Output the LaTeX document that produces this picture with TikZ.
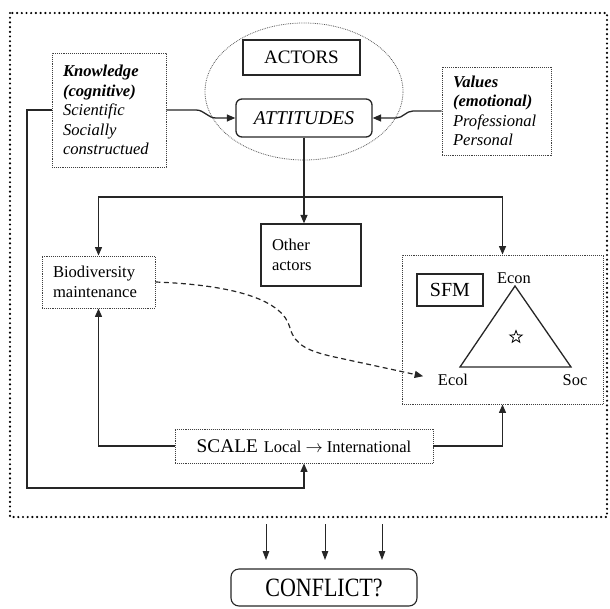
\documentclass[tikz,border=0pt]{standalone}
\usepackage{fontspec}
\usepackage{graphicx}
\setmainfont{Liberation Serif}
\usetikzlibrary{arrows.meta,shapes.geometric}
\begin{document}
\begin{tikzpicture}[x=1pt,y=-1pt,
  ln/.style={line width=1.3pt, draw=black!85},
  arr/.style={ln, -{Triangle[length=8.5pt,width=7pt]}},
  thinarr/.style={line width=1pt, draw=black!85, -{Triangle[length=9pt,width=6.5pt]}},
  dasharr/.style={line width=1.2pt, draw=black!85, dash pattern=on 5pt off 3.5pt, -{Triangle[length=8.5pt,width=7pt]}},
  solidbox/.style={draw=black!85, line width=1.3pt, inner sep=0pt},
  dotbox/.style={draw=black!75, line width=0.9pt, densely dotted, inner sep=0pt},
  outer/.style={line width=2.4pt, dash pattern=on 0pt off 4.7pt, line cap=round, draw=black},
  fA/.style={font=\fontsize{16.6}{19.4}\selectfont},
  lab/.style={inner sep=0pt, anchor=base, font=\fontsize{16.4}{19}\selectfont}
]
\useasboundingbox (0,0) rectangle (610,608);

% outer dotted frame
\draw[outer] (10,13) rectangle (607,517);

% actors ellipse
\node[ellipse, draw=black!65, densely dotted, line width=0.8pt, minimum width=198pt, minimum height=137pt, inner sep=0pt] (ell) at (304,91.5) {};
\node[solidbox, minimum width=117pt, minimum height=35pt, font=\fontsize{19}{22}\selectfont] (actors) at (301.5,57.5) {ACTORS};
\node[solidbox, rounded corners=6pt, minimum width=136pt, minimum height=38pt, font=\fontsize{19.5}{22}\selectfont\itshape] (att) at (304,118) {ATTITUDES};

% knowledge and values
\node[dotbox, minimum width=114pt, minimum height=114pt, text width=92pt, align=left, fA] (know) at (109,110)
  {\textbf{\textit{Knowledge}}\\\textbf{\textit{(cognitive)}}\\\textit{Scientific}\\\textit{Socially}\\\textit{constructued}};
\node[dotbox, minimum width=109pt, minimum height=88pt, text width=87pt, align=left, fA] (val) at (496.5,111)
  {\textbf{\textit{Values}}\\\textbf{\textit{(emotional)}}\\\textit{Professional}\\\textit{Personal}};

% middle row
\node[dotbox, minimum width=113pt, minimum height=52pt, text width=91pt, align=left, fA] (bio) at (98.5,282)
  {Biodiversity\\maintenance};
\node[solidbox, minimum width=100pt, minimum height=62pt, text width=78pt, align=left, fA] (other) at (311,255)
  {Other\\actors};

% SFM box
\node[dotbox, minimum width=201pt, minimum height=149pt] (sfm) at (502.5,329.5) {};
\node[solidbox, minimum width=66pt, minimum height=32pt, font=\fontsize{20}{22}\selectfont] (sfmlab) at (450,290) {SFM};
\coordinate (te) at (515,286);
\coordinate (tl) at (460,367);
\coordinate (tr) at (571,367);
\draw[ln, line join=miter] (te) -- (tl) -- (tr) -- cycle;
\node[lab] (econ) at (514,283) {Econ};
\node[lab] (ecol) at (453,385) {Ecol};
\node[lab] (soc) at (575,385) {Soc};
\node[star, star points=5, star point ratio=2.4, draw=black, line width=0.8pt, minimum size=13pt, inner sep=0pt] (star) at (516,337) {};

% scale
\node[dotbox, minimum width=258pt, minimum height=34pt] (scale) at (304,446)
  {{\fontsize{19.3}{22}\selectfont SCALE}\hspace{6pt}{\fontsize{16.5}{19}\selectfont Local $\rightarrow$ International}};

% conflict
\node[solidbox, line width=1.1pt, rounded corners=8pt, minimum width=186pt, minimum height=37pt, font=\fontsize{22}{24}\selectfont] (conf) at (324,587.5)
  {\scalebox{1}[1.2]{CONFLICT?}};

% connectors
\draw[arr] (know.east) -- (196,110) to[out=0,in=180] (216,118) -- (att.west);
\draw[arr] (val.west) -- (413,111) to[out=180,in=0] (396,118) -- (att.east);

\coordinate (j) at (304,197);
\draw[arr] (att.south) -- (att.south |- other.north);
\draw[arr] (j) -| (bio.north);
\draw[arr] (j) -| (sfm.north);

\draw[arr] (scale.west) -| (bio.south);
\draw[arr] (scale.east) -| (sfm.south);

\coordinate (k1) at (27,488);
\draw[arr] (know.west) -| (k1) -| (scale.south);

\draw[dasharr, shorten >=15pt] (bio.east) .. controls (235,285) and (283,300) .. (290,328)
  .. controls (295,346) and (310,351) .. (330,356) -- (ecol.west);

% arrows to conflict
\coordinate (c1s) at (266,524); \coordinate (c1e) at (266,560);
\coordinate (c2s) at (325,524); \coordinate (c2e) at (325,560);
\coordinate (c3s) at (382,524); \coordinate (c3e) at (382,560);
\draw[thinarr] (c1s) -- (c1e);
\draw[thinarr] (c2s) -- (c2e);
\draw[thinarr] (c3s) -- (c3e);
\end{tikzpicture}
\end{document}
